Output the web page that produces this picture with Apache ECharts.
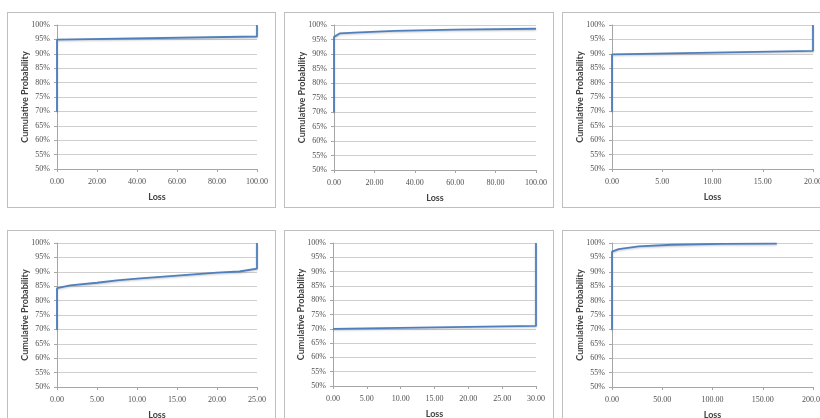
<!DOCTYPE html>
<html><head><meta charset="utf-8">
<script src="https://cdn.jsdelivr.net/npm/echarts@6/dist/echarts.min.js"></script>
<style>
html,body{margin:0;padding:0;width:820px;height:418px;overflow:hidden;background:#fff;}
.p{position:absolute;box-sizing:border-box;border:1px solid #bfbfbf;background:#fff;}
</style></head><body>
<div class="p" id="c1" style="left:7px;top:12px;width:269px;height:196px"></div>
<div class="p" id="c2" style="left:284px;top:12px;width:270px;height:196px"></div>
<div class="p" id="c3" style="left:562px;top:12px;width:270px;height:196px"></div>
<div class="p" id="c4" style="left:7px;top:230px;width:269px;height:196px"></div>
<div class="p" id="c5" style="left:284px;top:230px;width:270px;height:196px"></div>
<div class="p" id="c6" style="left:562px;top:230px;width:270px;height:196px"></div>
<script>
// Panel data: loss (x) and cumulative probability (y)
const loss1 = [0, 0, 100, 100];
const prob1 = [0.70, 0.949, 0.960, 1.00];
const loss2 = [0, 0, 2.8, 10, 30, 60, 100];
const prob2 = [0.70, 0.959, 0.971, 0.974, 0.980, 0.984, 0.987];
const loss3 = [0, 0, 20, 20];
const prob3 = [0.70, 0.898, 0.910, 1.00];
const loss4 = [0, 0, 1.65, 5, 7.5, 10, 15, 20, 22.8, 25, 25];
const prob4 = [0.70, 0.843, 0.853, 0.862, 0.870, 0.876, 0.887, 0.897, 0.901, 0.911, 1.00];
const loss5 = [0, 30, 30];
const prob5 = [0.70, 0.710, 1.00];
const loss6 = [0, 0, 6.6, 26.5, 59.7, 109.5, 164];
const prob6 = [0.70, 0.970, 0.979, 0.988, 0.994, 0.997, 0.998];

const xMax = [100, 100, 20, 25, 30, 200];
const xStep = [20, 20, 5, 5, 5, 50];
const yTicksMin = 0.5, yTicksMax = 1.0, yTickStep = 0.05;
const xTitle = 'Loss';
const yTitle = 'Cumulative Probability';

const panels = [[loss1, prob1], [loss2, prob2], [loss3, prob3], [loss4, prob4], [loss5, prob5], [loss6, prob6]];
const grids = [
  {left: 49, right: 18, top: 12, bottom: 38},
  {left: 49, right: 17, top: 12, bottom: 37},
  {left: 49, right: 18, top: 12, bottom: 38},
  {left: 49, right: 18, top: 12, bottom: 38},
  {left: 48, right: 17, top: 12, bottom: 39},
  {left: 49, right: 18, top: 12, bottom: 38}
];
const tickFont = {fontFamily: 'Liberation Serif', fontSize: 8, color: '#505050'};
const titleFont = {fontFamily: 'Lato', fontSize: 9, fontWeight: 'bold', color: '#404040'};

panels.forEach((pd, i) => {
  const chart = echarts.init(document.getElementById('c' + (i + 1)), null, {renderer: 'canvas'});
  const data = pd[0].map((x, k) => [x, pd[1][k]]);
  chart.setOption({
    animation: false,
    grid: Object.assign({containLabel: false, outerBoundsMode: 'none'}, grids[i]),
    xAxis: {
      type: 'value', min: 0, max: xMax[i], interval: xStep[i],
      name: xTitle, nameLocation: 'middle', nameGap: 24, nameMoveOverlap: false, nameTextStyle: titleFont,
      axisLine: {show: true, lineStyle: {color: '#a6a6a6', width: 1}},
      axisTick: {show: true, length: 3, lineStyle: {color: '#a6a6a6'}},
      axisLabel: Object.assign({margin: 9, formatter: v => v.toFixed(2)}, tickFont),
      splitLine: {show: false}
    },
    yAxis: {
      type: 'value', min: yTicksMin, max: yTicksMax, interval: yTickStep,
      name: yTitle, nameLocation: 'middle', nameGap: 27, nameMoveOverlap: false, nameTextStyle: titleFont,
      axisLine: {show: true, lineStyle: {color: '#a6a6a6', width: 1}},
      axisTick: {show: true, length: 3, lineStyle: {color: '#a6a6a6'}},
      axisLabel: Object.assign({margin: 7, formatter: v => Math.round(v * 100) + '%'}, tickFont),
      splitLine: {show: true, lineStyle: {color: '#cfcfcf', width: 1}}
    },
    series: [{
      type: 'line', data: data, showSymbol: false, symbol: 'none',
      lineStyle: {color: '#4f7fbd', width: 1.8, shadowColor: 'rgba(0,0,0,0.22)', shadowBlur: 2, shadowOffsetY: 1},
      clip: false
    }]
  });
});
</script>
</body></html>
